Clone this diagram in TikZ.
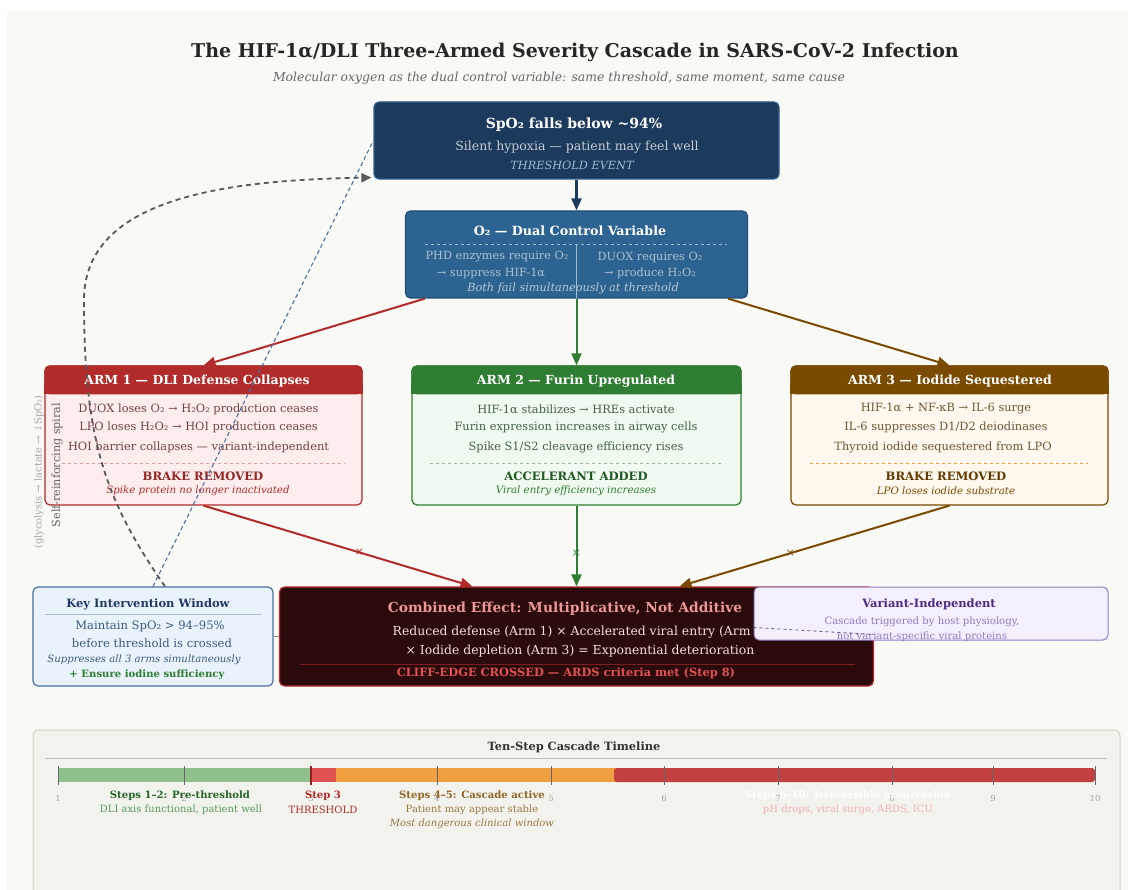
\documentclass[tikz,border=0pt]{standalone}
\usepackage{fontspec}
\setmainfont{DejaVu Serif}
\usepackage{tikz}
\usetikzlibrary{arrows.meta,positioning,calc}
\definecolor{figBg}{HTML}{F9F9F5}
\definecolor{figNavy}{HTML}{1B3A5C}
\definecolor{figNavyLine}{HTML}{2F5C8A}
\definecolor{figSteel}{HTML}{2C6391}
\definecolor{figSteelLine}{HTML}{1F4E7A}
\definecolor{figRed}{HTML}{B22B2B}
\definecolor{figRedBg}{HTML}{FDEDED}
\definecolor{figGreen}{HTML}{2E7D32}
\definecolor{figGreenBg}{HTML}{F1FAF0}
\definecolor{figBrown}{HTML}{7A4A00}
\definecolor{figBrownBg}{HTML}{FFF8EE}
\definecolor{figMaroon}{HTML}{2B0A0C}
\definecolor{figKeyBg}{HTML}{EAF3FB}
\definecolor{figKeyLine}{HTML}{4A70A0}
\definecolor{figKeyText}{HTML}{1F3A66}
\definecolor{figPurple}{HTML}{4B2C85}
\definecolor{figLilac}{HTML}{8E7CC3}
\definecolor{figLilacBg}{HTML}{F4EFFC}
\definecolor{figPanel}{HTML}{F3F3EE}
\definecolor{figPanelLine}{HTML}{D3D3C6}
\definecolor{figBarGreen}{HTML}{8FBF8B}
\definecolor{figBarRed}{HTML}{E05252}
\definecolor{figBarOrange}{HTML}{F0A040}
\definecolor{figBarDark}{HTML}{C24040}
\newcommand{\fsz}[1]{\fontsize{#1}{#1}\selectfont}

\begin{document}
\begin{tikzpicture}[x=1pt, y=-1pt,
  box/.style={draw, rounded corners=5pt, line width=1.2pt, inner sep=0pt},
  txt/.style={inner sep=0pt, font=\fsz{11.4}},
  btxt/.style={inner sep=0pt, font=\bfseries\fsz{12.5}},
  itxt/.style={inner sep=0pt, font=\itshape\fsz{10.2}},
  sepline/.style={dashed, line width=0.6pt},
  flow/.style={-{Triangle[length=12pt,width=10pt]}, line width=2pt},
  cross/.style={inner sep=0pt, font=\fsz{11}},
  >=Latex
]
\useasboundingbox (0,0) rectangle (1130,890);
\fill[figBg] (7,11) rectangle (1128,895);

% Title
\node[inner sep=0pt, font=\bfseries\fsz{19}, text=black!85] (title) at (575,52)
  {The HIF-1α/DLI Three-Armed Severity Cascade in SARS-CoV-2 Infection};
\node[inner sep=0pt, font=\itshape\fsz{12.4}, text=black!60] (subtitle) at (559,78)
  {Molecular oxygen as the dual control variable: same threshold, same moment, same cause};

% Threshold event
\node[box, fill=figNavy, draw=figNavyLine, minimum width=405, minimum height=77] (top) at (576.5,140.5) {};
\node[btxt, font=\bfseries\fsz{14}, text=white] (topt) at (574,125) {SpO₂ falls below \textasciitilde94\%};
\node[txt, font=\fsz{12.5}, text=figNavy!25] (topl) at (577,147) {Silent hypoxia — patient may feel well};
\node[itxt, font=\itshape\fsz{11.3}, text=figSteel!45] (topi) at (572,165) {THRESHOLD EVENT};

% O2 control variable
\node[box, fill=figSteel, draw=figSteelLine, minimum width=342, minimum height=87] (ctrl) at (576.5,254.5) {};
\node[btxt, font=\bfseries\fsz{12.7}, text=white] (ctrlt) at (570,231) {O₂ — Dual Control Variable};
\draw[sepline, figSteel!45] (425,244) -- (727,244);
\draw[figSteel!45, line width=0.6pt] (576.5,244) -- (576.5,298);
\node[txt, font=\fsz{11.3}, text=figSteel!40] (ctrla1) at (497,257) {PHD enzymes require O₂};
\node[txt, font=\fsz{11.3}, text=figSteel!40] (ctrla2) at (491,273) {→ suppress HIF-1α};
\node[txt, font=\fsz{11.3}, text=figSteel!40] (ctrlb1) at (650,257) {DUOX requires O₂};
\node[txt, font=\fsz{11.3}, text=figSteel!40] (ctrlb2) at (650,273) {→ produce H₂O₂};
\node[itxt, font=\itshape\fsz{11.3}, text=figSteel!35] (ctrli) at (573,288) {Both fail simultaneously at threshold};

\draw[flow, figNavy, line width=2.2pt] (top.south) -- (ctrl.north);

% Three arms
\node[box, fill=figRedBg, draw=figRed, minimum width=317, minimum height=139] (arm1) at (203.5,435.5) {};
\node[box, fill=figGreenBg, draw=figGreen, minimum width=329, minimum height=139] (arm2) at (576.5,435.5) {};
\node[box, fill=figBrownBg, draw=figBrown, minimum width=317, minimum height=139] (arm3) at (949.5,435.5) {};
\foreach \a/\c in {arm1/figRed, arm2/figGreen, arm3/figBrown} {
  \fill[\c, rounded corners=5pt] (\a.north west) rectangle ([yshift=-29]\a.north east);
  \fill[\c] ([yshift=-18]\a.north west) rectangle ([yshift=-29]\a.north east);
}
\node[btxt, text=white] (arm1t) at (197,381) {ARM 1 — DLI Defense Collapses};
\node[txt, text=figRed!45!black!80] (arm1l1) at (198.5,409) {DUOX loses O₂ → H₂O₂ production ceases};
\node[txt, text=figRed!45!black!80] (arm1l2) at (198.5,427) {LPO loses H₂O₂ → HOI production ceases};
\node[txt, text=figRed!45!black!80] (arm1l3) at (198.5,447) {HOI barrier collapses — variant-independent};
\draw[sepline, figRed!45] (62,463) -- (345,463);
\node[btxt, font=\bfseries\fsz{11.6}, text=figRed!85!black] (arm1b) at (203,476) {BRAKE REMOVED};
\node[itxt, text=figRed] (arm1i) at (198,491) {Spike protein no longer inactivated};

\node[btxt, text=white] (arm2t) at (576,381) {ARM 2 — Furin Upregulated};
\node[txt, text=figGreen!45!black!80] (arm2l1) at (576,409) {HIF-1α stabilizes → HREs activate};
\node[txt, text=figGreen!45!black!80] (arm2l2) at (576,427) {Furin expression increases in airway cells};
\node[txt, text=figGreen!45!black!80] (arm2l3) at (576,447) {Spike S1/S2 cleavage efficiency rises};
\draw[sepline, figGreen!50] (430,463) -- (722,463);
\node[btxt, font=\bfseries\fsz{11.6}, text=figGreen!70!black] (arm2b) at (576,476) {ACCELERANT ADDED};
\node[itxt, text=figGreen] (arm2i) at (576,491) {Viral entry efficiency increases};

\node[btxt, text=white] (arm3t) at (950,381) {ARM 3 — Iodide Sequestered};
\node[txt, text=figBrown!60!black!80] (arm3l1) at (946,409) {HIF-1α + NF-κB → IL-6 surge};
\node[txt, text=figBrown!60!black!80] (arm3l2) at (946,427) {IL-6 suppresses D1/D2 deiodinases};
\node[txt, text=figBrown!60!black!80] (arm3l3) at (943,447) {Thyroid iodide sequestered from LPO};
\draw[sepline, figBarOrange] (810,463) -- (1088,463);
\node[btxt, font=\bfseries\fsz{11.6}, text=figBrown!80!black] (arm3b) at (946,476) {BRAKE REMOVED};
\node[itxt, text=figBrown] (arm3i) at (946,491) {LPO loses iodide substrate};

\draw[flow, figRed] ([xshift=20]ctrl.south west) -- (arm1.north);
\draw[flow, figGreen] (ctrl.south) -- (arm2.north);
\draw[flow, figBrown] ([xshift=-20]ctrl.south east) -- (arm3.north);

% Combined effect
\node[box, fill=figMaroon, draw=figRed, minimum width=594, minimum height=99] (comb) at (576.5,636.5) {};
\node[btxt, font=\bfseries\fsz{13.8}, text=figBarRed!60!white] (combt) at (565,609) {Combined Effect: Multiplicative, Not Additive};
\node[txt, font=\fsz{12.4}, text=white!85!figRed] (combl1) at (580,632) {Reduced defense (Arm 1) × Accelerated viral entry (Arm 2)};
\node[txt, font=\fsz{12.4}, text=white!85!figRed] (combl2) at (580,651) {× Iodide depletion (Arm 3) = Exponential deterioration};
\draw[figRed!70!black, line width=1pt] (300,664) -- (855,664);
\node[btxt, font=\bfseries\fsz{11.4}, text=figBarRed] (combc) at (566,673) {CLIFF-EDGE CROSSED — ARDS criteria met (Step 8)};

\draw[flow, figRed] (arm1.south) -- node[cross, pos=0.58, text=figRed] (x1) {×} ([xshift=-104]comb.north);
\draw[flow, figGreen] (arm2.south) -- node[cross, pos=0.59, text=figGreen] (x2) {×} (comb.north);
\draw[flow, figBrown] (arm3.south) -- node[cross, pos=0.59, text=figBrown] (x3) {×} ([xshift=103]comb.north);

% Key intervention window
\node[box, fill=figKeyBg, draw=figKeyLine, minimum width=240, minimum height=99] (kiw) at (153,636.5) {};
\node[btxt, font=\bfseries\fsz{11.5}, text=figKeyText] (kiwt) at (148,604) {Key Intervention Window};
\draw[figKeyLine!50, line width=0.8pt] (45,614) -- (261,614);
\node[txt, font=\fsz{11.6}, text=figKeyLine!80!black] (kiwl1) at (150,626) {Maintain SpO₂ > 94–95\%};
\node[txt, font=\fsz{11.6}, text=figKeyLine!80!black] (kiwl2) at (152,643) {before threshold is crossed};
\node[itxt, font=\itshape\fsz{10.1}, text=figKeyLine!80!black] (kiwi) at (144,660) {Suppresses all 3 arms simultaneously};
\node[btxt, font=\bfseries\fsz{10.1}, text=figGreen] (kiwg) at (147,675) {+ Ensure iodine sufficiency};
\draw[black!45, line width=0.8pt] (kiw.east) -- (comb.west);

% Variant-independent note
\node[box, fill=figLilacBg, draw=figLilac, line width=1pt, minimum width=354, minimum height=53] (var) at (931,613.5) {};
\node[btxt, font=\bfseries\fsz{11.5}, text=figPurple] (vart) at (929,604) {Variant-Independent};
\node[txt, font=\fsz{10.1}, text=figLilac] (varl1) at (922,622) {Cascade triggered by host physiology,};
\node[txt, font=\fsz{10.1}, text=figLilac] (varl2) at (922,637) {not variant-specific viral proteins};
\draw[dashed, figLilac!70!black, line width=0.8pt] ([yshift=-14]var.west) -- ([yshift=2]comb.east);

% Self-reinforcing spiral
\draw[dashed, dash pattern=on 5pt off 4pt, black!65, line width=1.8pt, -{Triangle[length=10pt,width=9pt]}]
  ([xshift=12]kiw.north) .. controls (105,500) and (84,440) .. (84,300)
  .. controls (84,200) and (220,180) .. ([xshift=-2,yshift=2]top.south west);
\draw[dashed, dash pattern=on 4pt off 3pt, figKeyLine, line width=1.1pt] (kiw.north) -- (top.west);
\node[inner sep=0pt, rotate=90, font=\fsz{11.2}, text=black!60] (spiral) at (57,465) {Self-reinforcing spiral};
\node[inner sep=0pt, rotate=90, font=\fsz{9.9}, text=black!35] (spiralsub) at (39,472) {(glycolysis → lactate → ↓SpO₂)};

% Ten-step timeline
\node[draw=figPanelLine, fill=figPanel, rounded corners=6pt, line width=1pt, minimum width=1087, minimum height=170] (tl) at (576.5,815) {};
\node[btxt, font=\bfseries\fsz{11.4}, text=black!80] (tlt) at (574,747) {Ten-Step Cascade Timeline};
\draw[black!25, line width=0.8pt] (45,758) -- (1107,758);
\fill[figBarGreen] (58,768) rectangle (311,782);
\fill[figBarRed] (311,768) rectangle (336,782);
\fill[figBarOrange] (336,768) rectangle (620,782);
\fill[figBarDark, rounded corners=3pt] (614,768) rectangle (1095,782);
\foreach \s/\x in {1/58, 2/184, 3/311, 4/437, 5/551, 6/664, 7/778, 8/892, 9/993, 10/1095} {
  \draw[black!60, line width=1pt] (\x,766) -- (\x,785);
  \node[inner sep=0pt, font=\fsz{8.5}, text=black!35] (n\s) at (\x,798) {\s};
}
\draw[figRed!80!black, line width=1.6pt] (311,766) -- (311,785);
\node[btxt, font=\bfseries\fsz{10.1}, text=figGreen!80!black] (s12) at (180,796) {Steps 1–2: Pre-threshold};
\node[txt, font=\fsz{10}, text=figGreen!80] (s12l) at (181,810) {DLI axis functional, patient well};
\node[btxt, font=\bfseries\fsz{10.1}, text=figRed] (s3) at (323,796) {Step 3};
\node[txt, font=\fsz{10}, text=figRed] (s3l) at (323,810) {THRESHOLD};
\node[btxt, font=\bfseries\fsz{10.1}, text=figBrown!85] (s45) at (472,796) {Steps 4–5: Cascade active};
\node[txt, font=\fsz{10}, text=figBrown!75] (s45l) at (472,810) {Patient may appear stable};
\node[itxt, font=\itshape\fsz{10}, text=figBrown!75] (s45i) at (472,824) {Most dangerous clinical window};
\node[btxt, font=\bfseries\fsz{10.1}, text=white] (s610) at (848,796) {Steps 6–10: Irreversible progression};
\node[txt, font=\fsz{10}, text=figBarRed!45] (s610l) at (848,810) {pH drops, viral surge, ARDS, ICU};
\end{tikzpicture}
\end{document}
